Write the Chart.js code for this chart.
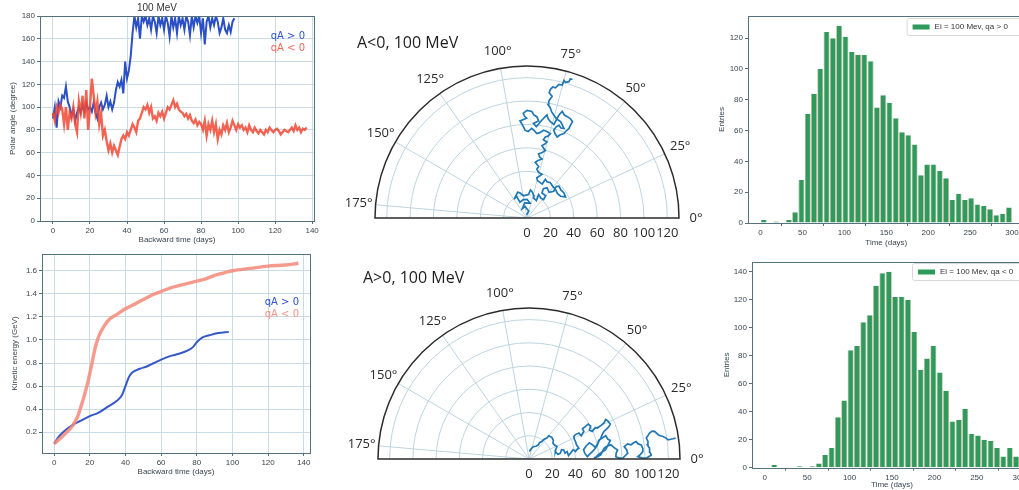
<!DOCTYPE html>
<html>
<head>
<meta charset="utf-8">
<script src="https://cdn.jsdelivr.net/npm/chart.js@4.4.1/dist/chart.umd.min.js"></script>
<style>
  html, body { margin: 0; padding: 0; background: #fff; }
  body { position: relative; width: 1019px; height: 490px; overflow: hidden; }
  canvas { position: absolute; }
</style>
</head>
<body>
<canvas id="angleChart"  width="330" height="250" style="left:0px;top:0px"></canvas>
<canvas id="energyChart" width="330" height="235" style="left:0px;top:245px"></canvas>
<canvas id="polarNeg"    width="370" height="245" style="left:340px;top:0px"></canvas>
<canvas id="polarPos"    width="370" height="245" style="left:340px;top:245px"></canvas>
<canvas id="histPos"     width="340" height="250" style="left:700px;top:0px"></canvas>
<canvas id="histNeg"     width="340" height="245" style="left:700px;top:245px"></canvas>

<script>
// ── Data ──────────────────────────────────────────────────────────
// polar angle vs backward time, one sample per day (day = index)
const anglePos = [90,100,82,105,100,110,108,118,105,100, 92,98,88,95,100,95,102,96,104,98,
  100,96,104,95,90,100,104,98,102,110, 100,105,98,104,115,122,118,124,112,140,
  125,132,145,165,180,170,178,160,180,175, 180,172,178,168,180,175,165,180,172,178,
  168,180,174,162,180,170,178,165,180,172, 178,168,180,175,163,180,170,180,174,180,
  165,178,155,175,180,170,178,172,180,175, 165,170,178,168,165,172,166,175,178];
const angleNeg = [95,88,100,95,102,98,85,100,80,95, 90,100,85,78,105,95,110,90,115,80,
  100,125,110,95,105,85,95,75,80,70, 62,68,60,66,62,58,65,72,75,72,
  78,75,80,85,82,78,88,90,95,100, 98,102,95,100,90,92,88,95,92,96,
  90,95,100,98,102,106,100,103,98,96, 95,92,94,90,93,88,86,89,84,87,
  85,80,88,75,85,80,88,78,85,72, 80,76,84,80,86,78,82,88,84,80,
  85,82,84,80,82,78,84,80,78,82, 79,77,80,78,76,80,78,82,80,78,
  80,81,79,76,78,80,79,78,80,82, 79,84,80,82,78,81,80,82];
const dayTicks   = [0, 20, 40, 60, 80, 100, 120, 140];
const angleTicks = [0, 20, 40, 60, 80, 100, 120, 140, 160, 180];

// kinetic energy (GeV) vs backward time
const energyDaysPos = [0,2,5,10,15,20,25,30,35,38,40,42,44,48,52,56,60,65,70,75,78,80,83,87,92,98];
const energyPos     = [0.10,0.15,0.20,0.26,0.30,0.34,0.37,0.42,0.47,0.52,0.60,0.68,0.72,0.75,0.77,0.80,0.83,0.86,0.88,0.91,0.94,0.98,1.02,1.04,1.06,1.07];
const energyDaysNeg = [0,5,10,13,15,17,19,21,23,25,28,31,35,40,45,50,55,60,65,70,75,80,85,90,95,100,110,120,130,137];
const energyNeg     = [0.10,0.17,0.25,0.33,0.42,0.52,0.64,0.78,0.93,1.03,1.12,1.18,1.22,1.27,1.31,1.35,1.39,1.42,1.45,1.47,1.49,1.51,1.53,1.56,1.58,1.60,1.62,1.64,1.65,1.665];
const energyTicks   = [0.2, 0.4, 0.6, 0.8, 1.0, 1.2, 1.4, 1.6];

// trajectories in the polar plane (x = r cos θ, y = r sin θ)
const walkNegX = [-0.3,1.5,-1.7,-4,-2,2.6,0,-3.2,-6,-9, -11,-8,-6.1,-3,1.2,3,4.1,6,5.5,8,
  9.9,12,14.2,16,12.8,14,17.1,19,22.9,25, 27.3,29,31.6,33,28.7,26,24.4,22,20,17,
  15.7,13,11.3,9,8.4,11,12.8,10,8.4,10, 7,9,12.8,11,9.9,13,15.7,14,12.8,15,
  17.1,14,15.7,18,20,17,14.2,11,8.4,6, 4.1,1,-1.7,-3,-4.6,-6,-0.3,-2,-3.2,0,
  4.1,6,8.4,10,5.5,8,12.8,15,17.1,18, 20,23,25.8,28,30.2,32,34.5,37,38.9,37,
  35.9,33,31.6,28,25.8,24,22.9,25,27.3,29, 31.6,30,28.7,25,22.9,21,20,18,18.6,20,
  21.5,19,20,22,24.4,26,27.3,30.2,31.6,33, 35.9,37,38.9];
const walkNegY = [2.6,6,9.8,8,13,12.8,16,15.7,13.5,18.6, 16,22,21.5,19,20,24,22.9,19,17.1,15,
  20,17,15.7,19,21.5,25,25.8,22,22.9,27, 27.3,24,21.5,18,18.6,21,24.4,27,30.2,31,
  33.1,29,30.2,32,34.5,36,37.4,39,41.8,44, 47.6,49,50.5,52,54.8,56,57.7,60,62,63,
  65,67,69.3,70,72.2,74,75.1,73,72.2,75, 76.6,74,75.1,78,80.9,83,85.3,87,89.6,92,
  91.1,88,86.7,83,80.9,78,83.8,86,88.1,85, 82.4,80,85.3,89,91.1,88,86.7,85,82.4,79,
  76.6,74,72.2,71,69.3,72,75.1,78,79.4,77, 76.6,80,82.4,85,88.1,91,94,97,99.8,102,
  104.1,107,109.9,112,111.4,113,114.2,113.7,117.7,116, 116.6,119,118.6];
const walkPosX = [0.3,2,3.8,6,8.1,9,11,13,15.4,17, 19.7,21,20.6,22,24.1,23,22.6,25,27,28,
  29.9,31,32.8,34,35.7,38,40,41,42.9,41, 40,39,38.5,40,42.9,45,47.2,46,48.7,51,
  53.1,52,54.5,57,58.9,62,64.6,66,67.6,70, 69,67,64.6,63,61.8,60,58.9,57,54.5,52,
  50.2,48,47,49,52,55,57,59,60,63, 66,68,70,68,66,63,60,58,55.9,58,
  61.8,63,64.6,67,70.5,73,76.3,75,74.8,77, 80.6,83,85,84,82,85,87.9,90,92.2,94,
  96.6,98,98,96,93.7,97,100.9,103,105.3,104, 103.8,102,102.4,101,103.8,106,108.1,110,111.1,113,
  115.4,118,119.8,122,124.1,126.2];
const walkPosY = [6.4,9,10.7,11,12.2,14,15.1,17,18,20, 18.6,16,13.6,12,10.7,8,6.4,4,5,8,
  7.8,5,6.4,3,5,8,6.4,8,9.3,12, 15.1,17,19.4,21,22.4,20,23.8,26,28.1,30,
  28.1,25,23.8,27,26.7,29,31.1,34,33.1,30, 28.1,26,23.8,21,18,15,12.2,9,6.4,4,
  2,5,8,11,14,12,10,13,16,18, 20,17,16,12,8,6,4,2,0.6,1.5,
  3.5,6,9.3,11,12.2,10,7.8,5,2,1, 0.6,3,5,8,10.7,13,12.2,14,15.1,13,
  12.2,9,6.4,4,2,1,0.6,2,3.5,6, 9.3,12,15.1,18,22.4,24,23.8,22,20.9,20,
  19.4,18,16.5,17,17.4,18];
const rTicks     = [0, 20, 40, 60, 80, 100, 120];
const thetaTicks = [0, 25, 50, 75, 100, 125, 150, 175];
const rMax = 130;

// arrival-time histograms, bins of 7.5 days
const binCenters = [3.75,11.25,18.75,26.25,33.75,41.25,48.75,56.25,63.75,71.25,78.75,86.25,93.75,101.25,108.75,
  116.25,123.75,131.25,138.75,146.25,153.75,161.25,168.75,176.25,183.75,191.25,198.75,206.25,213.75,221.25,
  228.75,236.25,243.75,251.25,258.75,266.25,273.75,281.25,288.75,296.25];
const countsPos = [2,0,1,0,2,7,28,71,84,100,124,120,128,121,111,109,109,105,75,83,
  78,68,59,57,51,31,38,38,34,29,15,19,15,16,12,11,9,5,6,10];
const countsNeg = [0,2,0,0,0,1,0,1,3,9,14,36,48,84,87,104,109,130,139,140,
  122,122,120,97,70,78,87,68,55,33,34,42,24,23,20,19,14,8,14,8];
const timeTicks  = [0, 50, 100, 150, 200, 250, 300];
const entryTicksPos = [0, 20, 40, 60, 80, 100, 120];
const entryTicksNeg = [0, 20, 40, 60, 80, 100, 120, 140];

// ── Defaults ──────────────────────────────────────────────────────
Chart.defaults.font.family = "'Liberation Sans', Arial, sans-serif";
Chart.defaults.font.size   = 8;
Chart.defaults.color       = "#3a4750";
Chart.defaults.animation   = false;
Chart.defaults.responsive  = false;
Chart.defaults.plugins.legend.display  = false;
Chart.defaults.plugins.tooltip.enabled = false;

const FRAME = "#56717e";
const GRID  = "#c9dce6";
const WALK  = "#1f77b4";
const BAR   = "#2e9a5b";

// ── Helpers ───────────────────────────────────────────────────────
function linAxis(o) {
  return {
    type: "linear", min: o.min, max: o.max, offset: false,
    afterBuildTicks: s => { s.ticks = o.ticks.map(v => ({ value: v })); },
    afterFit: s => { if (o.width) s.width = o.width; if (o.height) s.height = o.height; },
    grid: { color: GRID, drawOnChartArea: o.grid !== false, tickLength: 3, tickColor: FRAME },
    border: { display: false },
    ticks: { padding: 2, autoSkip: false, maxRotation: 0, callback: o.fmt || (v => String(v)) },
    title: { display: true, text: o.title, padding: o.titlePad }
  };
}

function framePlugin(color) {
  return {
    id: "frame",
    afterDraw(chart) {
      const { ctx, chartArea: a } = chart;
      ctx.save();
      ctx.strokeStyle = color; ctx.lineWidth = 1;
      ctx.strokeRect(Math.round(a.left) + 0.5, Math.round(a.top) + 0.5,
                     Math.round(a.right - a.left), Math.round(a.bottom - a.top));
      ctx.restore();
    }
  };
}

function textLegend(items, dx) {
  return {
    id: "textLegend",
    afterDraw(chart) {
      const { ctx, chartArea: a } = chart;
      ctx.save();
      ctx.font = "10px 'DejaVu Sans'";
      ctx.textAlign = "right"; ctx.textBaseline = "middle";
      items.forEach(it => { ctx.fillStyle = it.color; ctx.fillText(it.text, a.right - dx, a.top + it.dy); });
      ctx.restore();
    }
  };
}

function boxLegend(label, dx, dy) {
  return {
    id: "boxLegend",
    afterDraw(chart) {
      const { ctx, chartArea: a } = chart;
      const x = a.right - dx, y = a.top + dy;
      ctx.save();
      ctx.strokeStyle = "#d8d8d8"; ctx.fillStyle = "rgba(255,255,255,0.85)"; ctx.lineWidth = 1;
      ctx.beginPath(); ctx.roundRect(x - 5.5, y - 8.5, 130, 17, 2); ctx.fill(); ctx.stroke();
      ctx.fillStyle = BAR; ctx.fillRect(x, y - 2.5, 17, 5);
      ctx.font = "8px 'Liberation Sans'"; ctx.fillStyle = "#333";
      ctx.textAlign = "left"; ctx.textBaseline = "middle";
      ctx.fillText(label, x + 22, y);
      ctx.restore();
    }
  };
}

function polarGrid(title, tx, ty) {
  return {
    id: "polarGrid",
    beforeDatasetsDraw(chart) {
      const { ctx, scales: { x, y } } = chart;
      const cx = x.getPixelForValue(0), cy = y.getPixelForValue(0);
      const R = x.getPixelForValue(rMax) - cx;
      ctx.save();
      ctx.strokeStyle = "#bdd4e0"; ctx.lineWidth = 1;
      rTicks.forEach(r => {
        if (r === 0) return;
        ctx.beginPath(); ctx.arc(cx, cy, x.getPixelForValue(r) - cx, Math.PI, 2 * Math.PI); ctx.stroke();
      });
      thetaTicks.forEach(t => {
        if (t === 0) return;
        const a = t * Math.PI / 180;
        ctx.beginPath(); ctx.moveTo(cx, cy); ctx.lineTo(cx + R * Math.cos(a), cy - R * Math.sin(a)); ctx.stroke();
      });
      ctx.restore();
    },
    afterDraw(chart) {
      const { ctx, scales: { x, y } } = chart;
      const cx = x.getPixelForValue(0), cy = y.getPixelForValue(0);
      const R = x.getPixelForValue(rMax) - cx;
      ctx.save();
      ctx.strokeStyle = "#2b2b2b"; ctx.lineWidth = 1.5;
      ctx.beginPath(); ctx.arc(cx, cy, R, Math.PI, 2 * Math.PI); ctx.closePath(); ctx.stroke();
      ctx.fillStyle = "#2a2a2a"; ctx.font = "13px 'Open Sans'";
      ctx.textAlign = "center"; ctx.textBaseline = "middle";
      thetaTicks.forEach(t => {
        const a = t * Math.PI / 180, rr = R + 17;
        ctx.fillText(t + "°", cx + rr * Math.cos(a), cy - rr * Math.sin(a));
      });
      ctx.font = "16px 'Open Sans'"; ctx.fillStyle = "#1e1e1e"; ctx.textAlign = "left";
      ctx.fillText(title, tx, ty);
      ctx.restore();
    }
  };
}

// ── Polar angle vs time ───────────────────────────────────────────
new Chart(document.getElementById("angleChart"), {
  type: "line",
  data: {
    datasets: [
      { data: angleNeg.map((v, i) => ({ x: i, y: v })), borderColor: "rgba(240,72,52,0.85)", borderWidth: 2.4, pointRadius: 0 },
      { data: anglePos.map((v, i) => ({ x: i, y: v })), borderColor: "#2b4fc4", borderWidth: 2, pointRadius: 0 }
    ]
  },
  options: {
    layout: { padding: { left: 0, right: 16, top: 0, bottom: 0 } },
    plugins: { title: { display: true, text: "100 MeV", color: "#333", font: { size: 10, weight: "normal" }, padding: { top: 2, bottom: 2 } } },
    scales: {
      x: linAxis({ min: -7, max: 141, ticks: dayTicks, height: 29, title: "Backward time (days)", titlePad: { top: 0, bottom: 5 } }),
      y: linAxis({ min: 0, max: 180, ticks: angleTicks, width: 40, title: "Polar angle (degree)", titlePad: { top: 8, bottom: 0 } })
    }
  },
  plugins: [framePlugin(FRAME), textLegend([{ text: "qA > 0", color: "#2f52d0", dy: 20 }, { text: "qA < 0", color: "#f26a5a", dy: 32 }], 9)]
});

// ── Kinetic energy vs time ────────────────────────────────────────
new Chart(document.getElementById("energyChart"), {
  type: "line",
  data: {
    datasets: [
      { data: energyDaysNeg.map((d, i) => ({ x: d, y: energyNeg[i] })), borderColor: "rgba(243,136,120,0.85)", borderWidth: 3.4, pointRadius: 0, cubicInterpolationMode: "monotone" },
      { data: energyDaysPos.map((d, i) => ({ x: d, y: energyPos[i] })), borderColor: "#3558c8", borderWidth: 2, pointRadius: 0, cubicInterpolationMode: "monotone" }
    ]
  },
  options: {
    layout: { padding: { left: 0, right: 20, top: 9, bottom: 0 } },
    scales: {
      x: linAxis({ min: -6.8, max: 143.5, ticks: dayTicks, height: 27, title: "Backward time (days)", titlePad: { top: 0, bottom: 3 } }),
      y: linAxis({ min: 0.02, max: 1.745, ticks: energyTicks, width: 42, fmt: v => v.toFixed(1), title: "Kinetic energy (GeV)", titlePad: { top: 10, bottom: 0 } })
    }
  },
  plugins: [framePlugin(FRAME), textLegend([{ text: "qA > 0", color: "#2f52d0", dy: 48 }, { text: "qA < 0", color: "#f5958a", dy: 60 }], 11)]
});

// ── Polar trajectories ────────────────────────────────────────────
function polarConfig(xs, ys, title, tx, ty, pad, axisH) {
  return {
    type: "scatter",
    data: { datasets: [{ data: xs.map((x, i) => ({ x, y: ys[i] })), showLine: true, borderColor: WALK, borderWidth: 1.7, pointRadius: 0 }] },
    options: {
      layout: { padding: pad },
      scales: {
        x: {
          type: "linear", min: -rMax, max: rMax,
          afterBuildTicks: s => { s.ticks = rTicks.map(v => ({ value: v })); },
          afterFit: s => { s.height = axisH; },
          grid: { display: false, drawTicks: false }, border: { display: false },
          ticks: { padding: 7, autoSkip: false, maxRotation: 0, color: "#2a2a2a", font: { family: "'Open Sans'", size: 13 }, callback: v => String(v) }
        },
        y: { type: "linear", min: 0, max: rMax, display: false }
      }
    },
    plugins: [polarGrid(title, tx, ty)]
  };
}
new Chart(document.getElementById("polarNeg"), polarConfig(walkNegX, walkNegY, "A<0, 100 MeV", 17, 43, { left: 35, right: 31, top: 66, bottom: 0 }, 27));
new Chart(document.getElementById("polarPos"), polarConfig(walkPosX, walkPosY, "A>0, 100 MeV", 23, 33, { left: 38, right: 30, top: 63, bottom: 0 }, 31));

// ── Arrival-time histograms ───────────────────────────────────────
function histConfig(counts, yMax, yTicks, o) {
  return {
    type: "bar",
    data: { datasets: [{ data: binCenters.map((x, i) => ({ x, y: counts[i] })), backgroundColor: BAR, borderColor: "#b9ae96",
      borderWidth: { left: 0.8, right: 0.8, top: 0, bottom: 0 }, borderSkipped: false, barPercentage: 1, categoryPercentage: 0.95 }] },
    options: {
      layout: { padding: { left: 0, right: o.right, top: o.top, bottom: 0 } },
      scales: {
        x: linAxis({ min: -15, max: 315, ticks: timeTicks, height: o.xh, grid: false, title: "Time (days)", titlePad: { top: 0, bottom: o.xtp } }),
        y: linAxis({ min: 0, max: yMax, ticks: yTicks, width: o.yw, grid: false, title: "Entries", titlePad: { top: o.ytp, bottom: 0 } })
      }
    },
    plugins: [framePlugin(FRAME), boxLegend(o.label, o.ldx, o.ldy)]
  };
}
new Chart(document.getElementById("histPos"), histConfig(countsPos, 134.4, entryTicksPos,
  { right: 15.4, top: 16, xh: 27, xtp: 2, yw: 48, ytp: 17, label: "Ei = 100 Mev, qa > 0", ldx: 112, ldy: 11 }));
new Chart(document.getElementById("histNeg"), histConfig(countsNeg, 147, entryTicksNeg,
  { right: 8, top: 17, xh: 22.3, xtp: 0, yw: 52, ytp: 22, label: "Ei = 100 Mev, qa < 0", ldx: 114, ldy: 10 }));
</script>
</body>
</html>
